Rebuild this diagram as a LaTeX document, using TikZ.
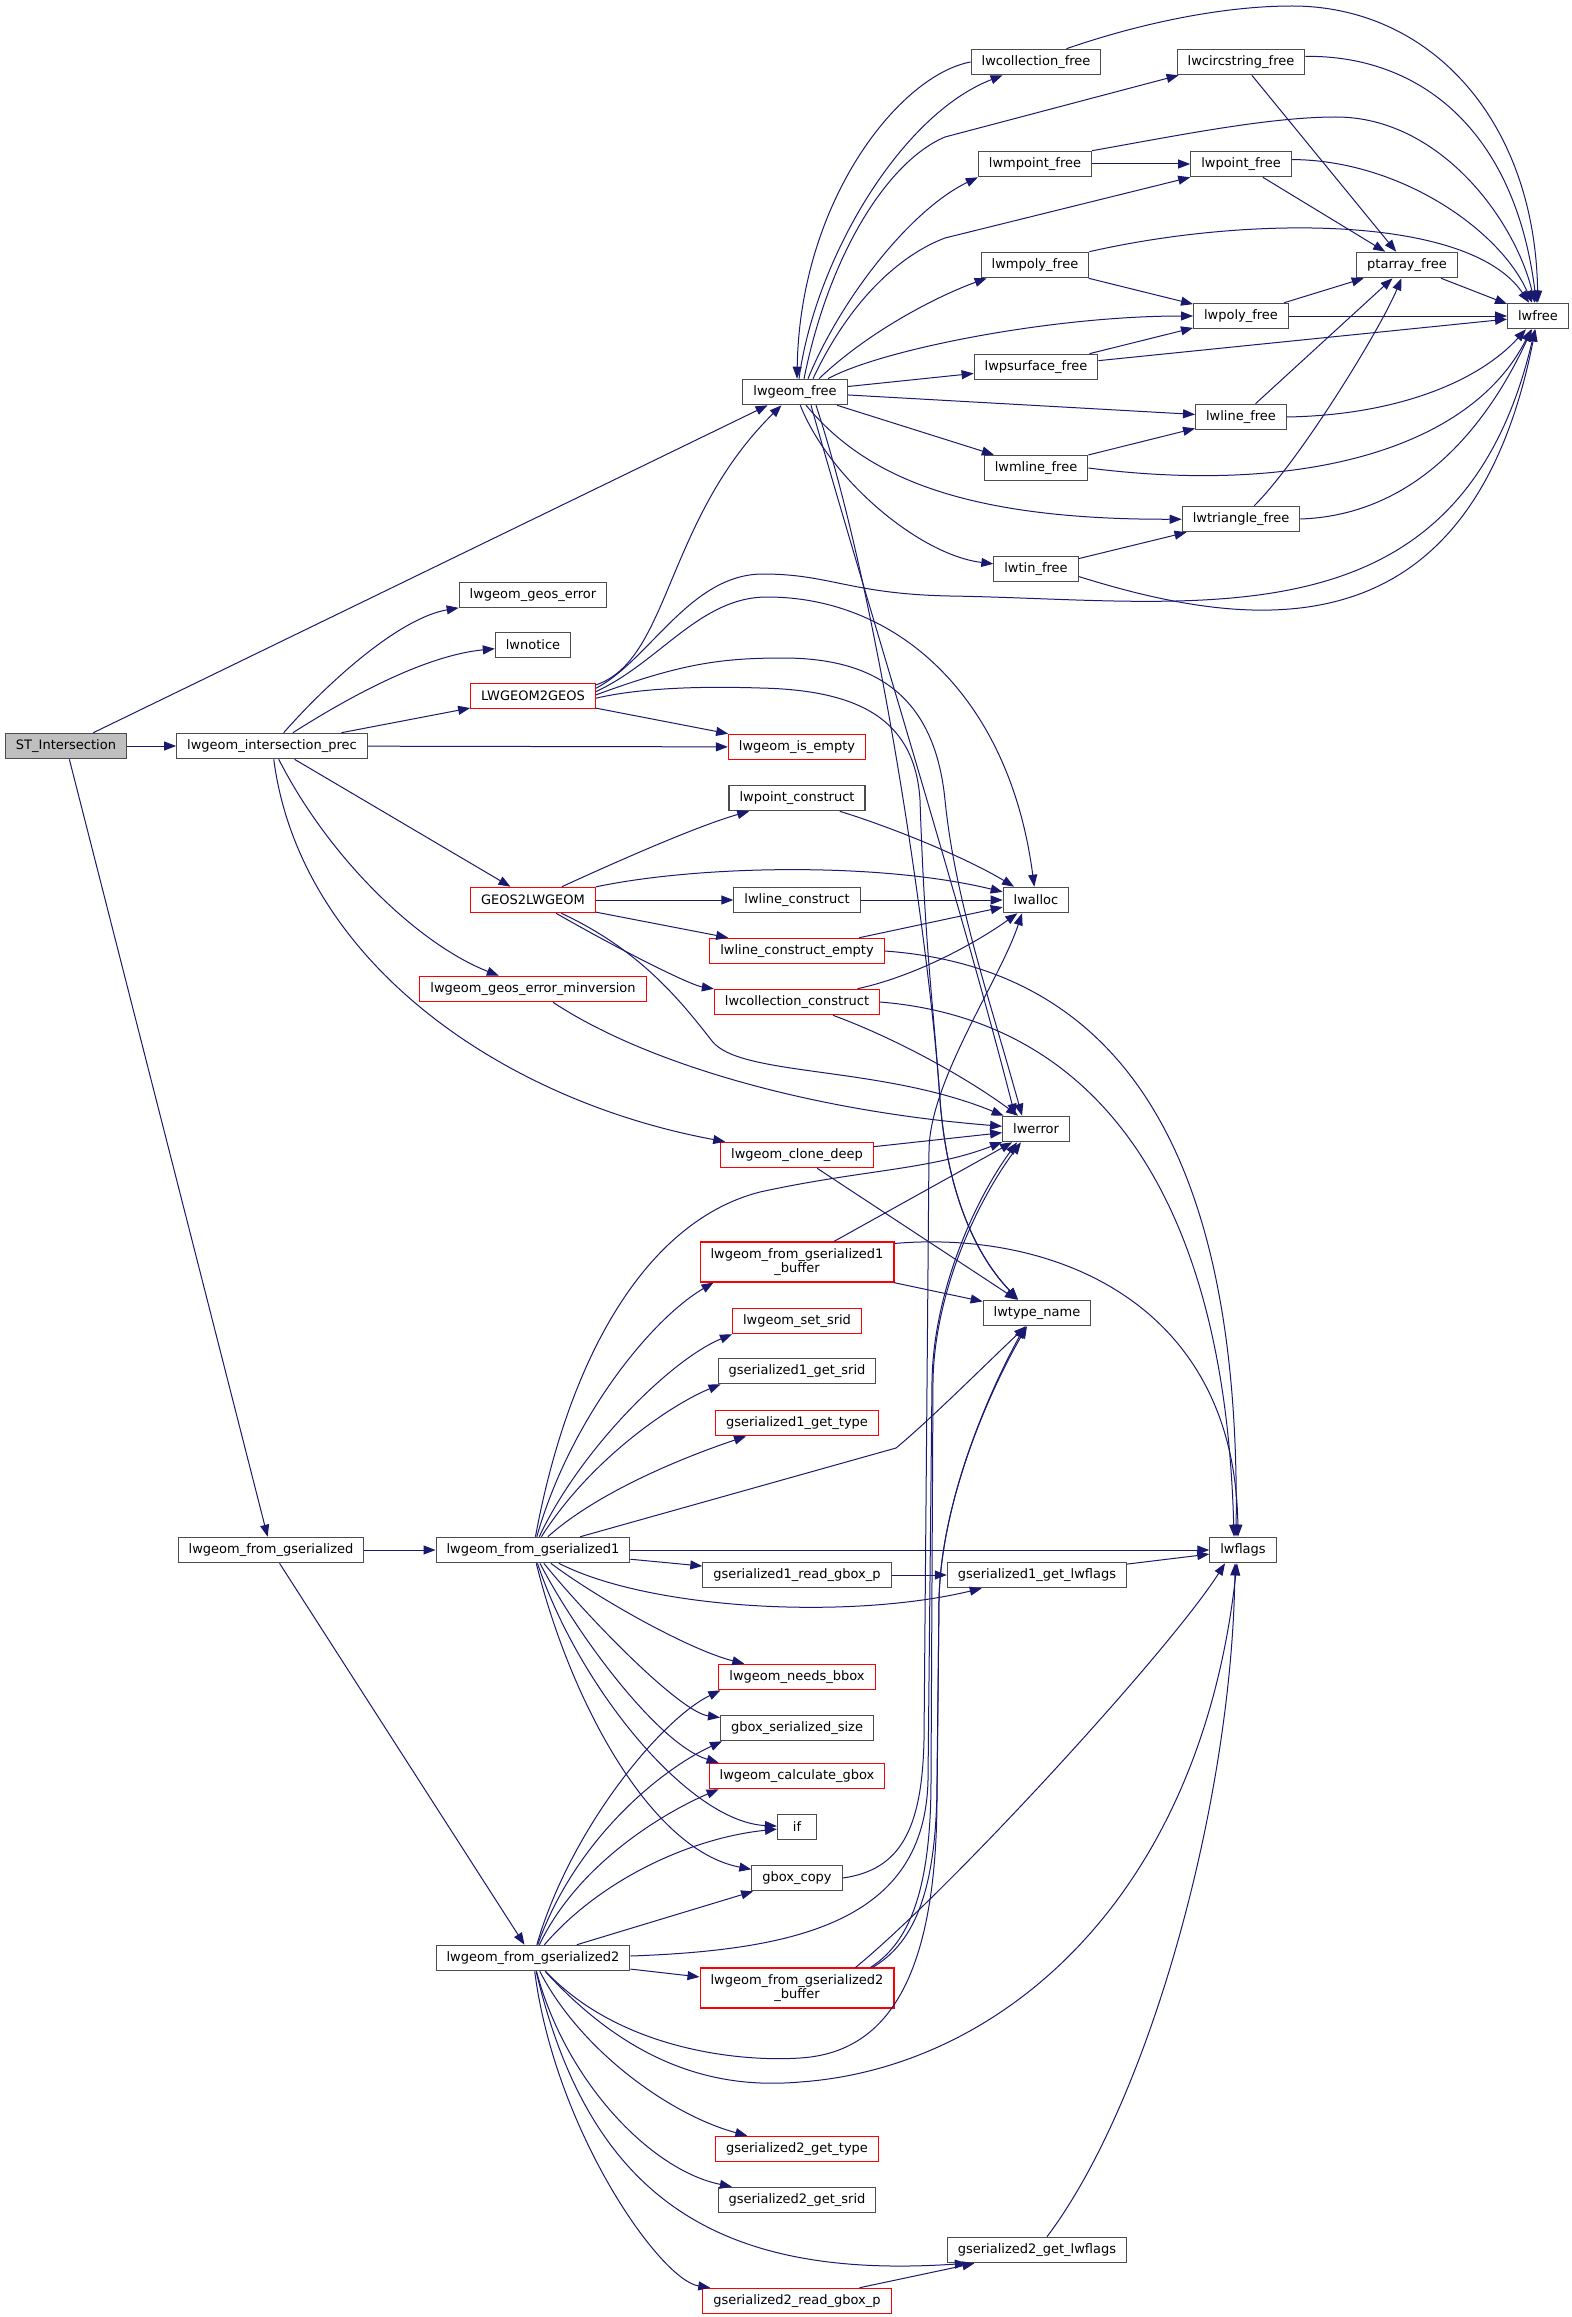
\documentclass[tikz,border=0pt]{standalone}
\usepackage{fontspec}
\setmainfont{DejaVu Sans}
\usetikzlibrary{arrows.meta}
\definecolor{midnight}{RGB}{25,25,112}

\begin{document}
\begin{tikzpicture}[->, >={Triangle[length=12pt,width=9pt]}, x=1pt, y=-1pt,
		every edge/.style={draw=midnight, line width=1pt},
		call/.style={draw=midnight, line width=1pt},
		fn/.style={draw=black!70, line width=1.1pt, fill=white, inner xsep=10.5pt, inner ysep=0pt, minimum height=25.5pt, font=\fontsize{13}{14.5}\selectfont},
		fnred/.style={fn, draw=red},
		fnbuf/.style={fnred, align=center, minimum height=40pt}]
			\fill[white] (0,0) rectangle (1571,2317);
			\useasboundingbox (0,0) rectangle (1571,2317);

			\node[fn, fill=black!25] (ST) at (66,746) {ST\_Intersection};
			\node[fn] (prec) at (272,746) {lwgeom\_intersection\_prec};
			\node[fn] (free) at (795,392) {lwgeom\_free};
			\node[fn] (colfree) at (1036,62) {lwcollection\_free};
			\node[fn] (circfree) at (1241,62) {lwcircstring\_free};
			\node[fn] (mpointfree) at (1035,164) {lwmpoint\_free};
			\node[fn] (pointfree) at (1241,164) {lwpoint\_free};
			\node[fn] (mpolyfree) at (1035,265) {lwmpoly\_free};
			\node[fn] (ptafree) at (1407,265) {ptarray\_free};
			\node[fn] (polyfree) at (1241,316) {lwpoly\_free};
			\node[fn] (lwfree) at (1538,316) {lwfree};
			\node[fn] (psurffree) at (1036,367) {lwpsurface\_free};
			\node[fn] (linefree) at (1241,417) {lwline\_free};
			\node[fn] (mlinefree) at (1036,468) {lwmline\_free};
			\node[fn] (trifree) at (1241,519) {lwtriangle\_free};
			\node[fn] (tinfree) at (1036,569) {lwtin\_free};
			\node[fn] (geoserr) at (533,595) {lwgeom\_geos\_error};
			\node[fn] (notice) at (533,645) {lwnotice};
			\node[fnred] (l2g) at (533,696) {LWGEOM2GEOS};
			\node[fnred] (isempty) at (797,747) {lwgeom\_is\_empty};
			\node[fn] (ptcons) at (797,798) {lwpoint\_construct};
			\node[fnred] (g2l) at (533,900) {GEOS2LWGEOM};
			\node[fn] (linecons) at (797,900) {lwline\_construct};
			\node[fn] (lwalloc) at (1036,900) {lwalloc};
			\node[fnred] (lceempty) at (797,951) {lwline\_construct\_empty};
			\node[fnred] (minver) at (533,989) {lwgeom\_geos\_error\_minversion};
			\node[fnred] (colcons) at (797,1002) {lwcollection\_construct};
			\node[fn] (lwerror) at (1036,1129) {lwerror};
			\node[fnred] (clone) at (797,1155) {lwgeom\_clone\_deep};
			\node[fnbuf] (buf1) at (797,1262) {lwgeom\_from\_gserialized1\\\_buffer};
			\node[fn] (typename) at (1037,1313) {lwtype\_name};
			\node[fnred] (setsrid) at (797,1321) {lwgeom\_set\_srid};
			\node[fn] (g1srid) at (797,1371) {gserialized1\_get\_srid};
			\node[fnred] (g1type) at (797,1423) {gserialized1\_get\_type};
			\node[fn] (fromgs) at (271,1550) {lwgeom\_from\_gserialized};
			\node[fn] (fromg1) at (533,1550) {lwgeom\_from\_gserialized1};
			\node[fn] (lwflags) at (1243,1550) {lwflags};
			\node[fn] (g1rbox) at (797,1575) {gserialized1\_read\_gbox\_p};
			\node[fn] (g1lwflags) at (1037,1575) {gserialized1\_get\_lwflags};
			\node[fnred] (needsbbox) at (797,1677) {lwgeom\_needs\_bbox};
			\node[fn] (gboxsize) at (797,1728) {gbox\_serialized\_size};
			\node[fnred] (calcgbox) at (797,1776) {lwgeom\_calculate\_gbox};
			\node[fn, minimum width=39pt] (ifstmt) at (797,1827) {if};
			\node[fn] (gboxcopy) at (797,1878) {gbox\_copy};
			\node[fn] (fromg2) at (533,1958) {lwgeom\_from\_gserialized2};
			\node[fnbuf] (buf2) at (797,1988) {lwgeom\_from\_gserialized2\\\_buffer};
			\node[fnred] (g2type) at (797,2149) {gserialized2\_get\_type};
			\node[fn] (g2srid) at (797,2200) {gserialized2\_get\_srid};
			\node[fn] (g2lwflags) at (1037,2250) {gserialized2\_get\_lwflags};
			\node[fnred] (g2rbox) at (797,2301) {gserialized2\_read\_gbox\_p};

			\path
			  (ST) edge (prec)
			  (ST) edge (free)
			  (ST) edge (fromgs);

			\path
			  (prec) edge (l2g)
			  (prec) edge (isempty)
			  (prec) edge (g2l);
			\draw[call] (prec) .. controls (330,680) and (400,618) .. (geoserr);
			\draw[call] (prec) .. controls (360,690) and (430,655) .. (notice);
			\draw[call] (prec) .. controls (330,860) and (420,945) .. (minver);
			\draw[call] (prec) .. controls (300,960) and (500,1100) .. (clone);

			\path (l2g) edge (isempty);
			\draw[call] (l2g.10) .. controls (670,660) and (665,520) .. (free);
			\draw[call] (l2g.7) .. controls (650,660) and (690,574) .. (763,574) .. controls (830,574) and (850,594) .. (950,596) .. controls (1200,600) and (1460,650) .. (lwfree);
			\draw[call] (l2g.4) .. controls (660,662) and (700,597) .. (767,597) .. controls (900,597) and (1010,700) .. (lwalloc);
			\draw[call] (l2g.1) .. controls (680,664) and (720,658) .. (783,658) .. controls (880,658) and (935,700) .. (945,800) .. controls (955,900) and (990,1000) .. ([xshift=-14pt]lwerror.north);
			\draw[call] (l2g.-2) .. controls (640,688) and (700,686) .. (760,688) .. controls (860,690) and (915,720) .. (920,800) .. controls (925,950) and (933,1000) .. (940,1100) .. controls (950,1230) and (1000,1280) .. ([xshift=-19pt]typename.north);

			\draw[call] ([xshift=4pt]free.north) .. controls (815,260) and (900,115) .. ([xshift=32pt]colfree.south west);
			\draw[call] (colfree.west) .. controls (900,75) and (800,200) .. ([xshift=2pt]free.north);
			\draw[call] ([xshift=9pt]free.north) .. controls (830,250) and (890,160) .. (945,137) -- ([xshift=2pt]circfree.south west);
			\draw[call] ([xshift=13pt]free.north) .. controls (840,300) and (910,210) .. (mpointfree.south west);
			\draw[call] ([xshift=18pt]free.north) .. controls (850,300) and (900,255) .. (945,238) -- (pointfree.south west);
			\draw[call] ([xshift=24pt]free.north) .. controls (870,330) and (940,295) .. ([xshift=6pt]mpolyfree.south west);
			\draw[call] ([xshift=33pt]free.north) .. controls (880,350) and (1050,316) .. (polyfree);
			\path
			  (free) edge (psurffree)
			  (free) edge (linefree)
			  (free) edge (mlinefree);
			\draw[call] (free) .. controls (860,470) and (950,520) .. (trifree);
			\draw[call] (free) .. controls (830,480) and (920,555) .. (tinfree);
			\draw[call] ([xshift=16pt]free.south) .. controls (860,580) and (960,900) .. ([xshift=-21pt]lwerror.north);
			\draw[call] ([xshift=21pt]free.south) .. controls (880,600) and (930,950) .. (940,1100) .. controls (950,1230) and (1000,1280) .. ([xshift=-19pt]typename.north);

			\draw[call] ([xshift=-35pt]colfree.north east) .. controls (1150,20) and (1230,6) .. (1292,6) .. controls (1430,6) and (1535,120) .. (lwfree);
			\draw[call] (circfree.5) .. controls (1420,55) and (1515,130) .. (lwfree);
			\path (circfree) edge (ptafree);
			\path (mpointfree) edge (pointfree);
			\draw[call] (mpointfree.north east) .. controls (1180,135) and (1270,117) .. (1336,117) .. controls (1440,117) and (1515,220) .. (lwfree);
			\draw[call] (pointfree.5) .. controls (1400,160) and (1500,230) .. (lwfree);
			\path (pointfree) edge (ptafree);
			\path (mpolyfree) edge (polyfree);
			\draw[call] (mpolyfree.north east) .. controls (1250,215) and (1470,215) .. (lwfree);
			\path
			  (polyfree) edge (ptafree)
			  (polyfree) edge (lwfree)
			  (ptafree) edge (lwfree)
			  (psurffree) edge (polyfree)
			  (psurffree) edge (lwfree)
			  (linefree) edge (ptafree)
			  (mlinefree) edge (linefree)
			  (tinfree) edge (trifree);
			\draw[call] (linefree.east) .. controls (1400,415) and (1480,380) .. (lwfree);
			\draw[call] (mlinefree.east) .. controls (1300,495) and (1470,450) .. (lwfree);
			\draw[call] (trifree) .. controls (1300,460) and (1380,330) .. (ptafree);
			\draw[call] (trifree.east) .. controls (1420,515) and (1490,420) .. (lwfree);
			\draw[call] (tinfree.-10) .. controls (1250,630) and (1470,660) .. (lwfree);

			\draw[call] (g2l) .. controls (620,860) and (700,825) .. (ptcons);
			\draw[call] (g2l) .. controls (700,865) and (880,862) .. (lwalloc);
			\path
			  (g2l) edge (linecons)
			  (g2l) edge (lceempty);
			\draw[call] (g2l) .. controls (620,950) and (690,985) .. (colcons);
			\draw[call] (g2l) .. controls (640,950) and (680,1000) .. (712,1041) .. controls (740,1077) and (880,1065) .. (lwerror);
			\draw[call] (ptcons) .. controls (900,830) and (970,860) .. (lwalloc);
			\path
			  (linecons) edge (lwalloc)
			  (lceempty) edge (lwalloc);
			\draw[call] (lceempty.east) .. controls (1150,970) and (1240,1200) .. ([xshift=-7pt]lwflags.north);
			\draw[call] (colcons) .. controls (920,975) and (980,940) .. (lwalloc);
			\draw[call] (colcons) .. controls (900,1040) and (970,1080) .. (lwerror);
			\draw[call] (colcons.east) .. controls (1100,1020) and (1225,1200) .. ([xshift=-9pt]lwflags.north);
			\draw[call] (minver) .. controls (640,1060) and (800,1110) .. (lwerror);
			\path
			  (clone) edge (lwerror)
			  (clone) edge (typename);

			\path
			  (fromgs) edge (fromg1)
			  (fromgs) edge (fromg2);

			\draw[call] (fromg1) .. controls (570,1350) and (650,1220) .. (760,1192) .. controls (860,1170) and (930,1170) .. (lwerror);
			\draw[call] (fromg1) .. controls (570,1420) and (650,1320) .. ([xshift=14pt]buf1.south west);
			\draw[call] (fromg1) .. controls (580,1450) and (670,1360) .. (setsrid.south west);
			\draw[call] (fromg1) .. controls (590,1460) and (670,1405) .. ([xshift=3pt]g1srid.south west);
			\draw[call] (fromg1) .. controls (600,1490) and (690,1455) .. ([xshift=31pt]g1type.south west);
			\draw[call] (fromg1) -- (896,1448) .. controls (930,1420) and (990,1360) .. ([xshift=-11pt]typename.south);
			\path
			  (fromg1) edge (lwflags)
			  (fromg1) edge (g1rbox);
			\draw[call] (fromg1) .. controls (650,1610) and (850,1620) .. (g1lwflags);
			\draw[call] (fromg1) .. controls (600,1600) and (690,1650) .. (needsbbox);
			\draw[call] (fromg1) .. controls (590,1620) and (680,1712) .. (gboxsize);
			\draw[call] (fromg1) .. controls (580,1640) and (660,1745) .. ([xshift=10pt]calcgbox.north west);
			\draw[call] (fromg1) .. controls (580,1690) and (690,1822) .. (ifstmt);
			\draw[call] (fromg1) .. controls (570,1700) and (650,1850) .. (gboxcopy);

			\path
			  (buf1) edge (lwerror)
			  (buf1) edge (typename);
			\draw[call] ([yshift=-2pt]buf1.north east) .. controls (1050,1230) and (1235,1300) .. ([xshift=-5pt]lwflags.north);
			\path
			  (g1rbox) edge (g1lwflags)
			  (g1lwflags) edge (lwflags);

			\draw[call] (gboxcopy.east) .. controls (900,1870) and (922,1830) .. (924,1740) -- (929,1150) .. controls (930,1080) and (1000,980) .. ([xshift=-14pt]lwalloc.south);

			\draw[call] (fromg2) .. controls (570,1830) and (660,1720) .. ([xshift=2pt]needsbbox.south west);
			\draw[call] (fromg2) .. controls (575,1840) and (660,1770) .. ([xshift=2pt]gboxsize.south west);
			\draw[call] (fromg2) .. controls (580,1860) and (670,1810) .. ([xshift=10pt]calcgbox.south west);
			\draw[call] (fromg2) .. controls (600,1880) and (690,1838) .. (ifstmt);
			\path
			  (fromg2) edge (gboxcopy)
			  (fromg2) edge (buf2);
			\draw[call] ([yshift=2pt]fromg2.east) .. controls (800,1950) and (925,1920) .. (928,1780) -- (932,1380) .. controls (934,1290) and (975,1200) .. ([xshift=-19pt]lwerror.south);
			\draw[call] (fromg2) .. controls (620,2050) and (740,2062) .. (800,2058) .. controls (880,2053) and (936,1990) .. (937,1800) -- (939,1600) .. controls (941,1500) and (990,1390) .. ([xshift=-12pt]typename.south);
			\draw[call] (fromg2) .. controls (640,2075) and (730,2088) .. (800,2082) .. controls (1000,2068) and (1200,1900) .. ([xshift=-6pt]lwflags.south);
			\draw[call] (fromg2) .. controls (580,2050) and (670,2115) .. (g2type);
			\draw[call] (fromg2) .. controls (565,2080) and (650,2170) .. (g2srid);
			\draw[call] (fromg2) .. controls (590,2200) and (720,2280) .. ([xshift=20pt]g2lwflags.south west);
			\draw[call] (fromg2) .. controls (555,2130) and (660,2280) .. (g2rbox);

			\draw[call] ([xshift=-24pt]buf2.north east) .. controls (905,1945) and (931,1900) .. (931,1780) -- (933,1380) .. controls (935,1290) and (978,1200) .. ([xshift=-15pt]lwerror.south);
			\draw[call] ([xshift=-22pt]buf2.north east) .. controls (910,1945) and (937,1900) .. (937,1780) -- (939,1600) .. controls (941,1500) and (990,1390) .. ([xshift=-10pt]typename.south);
			\draw[call] ([xshift=-39pt]buf2.north east) .. controls (950,1890) and (1170,1650) .. ([xshift=-18pt]lwflags.south);

			\path (g2rbox) edge (g2lwflags);
			\draw[call] (g2lwflags) .. controls (1150,2100) and (1232,1800) .. ([xshift=-8pt]lwflags.south);

		  \end{tikzpicture}
\end{document}
